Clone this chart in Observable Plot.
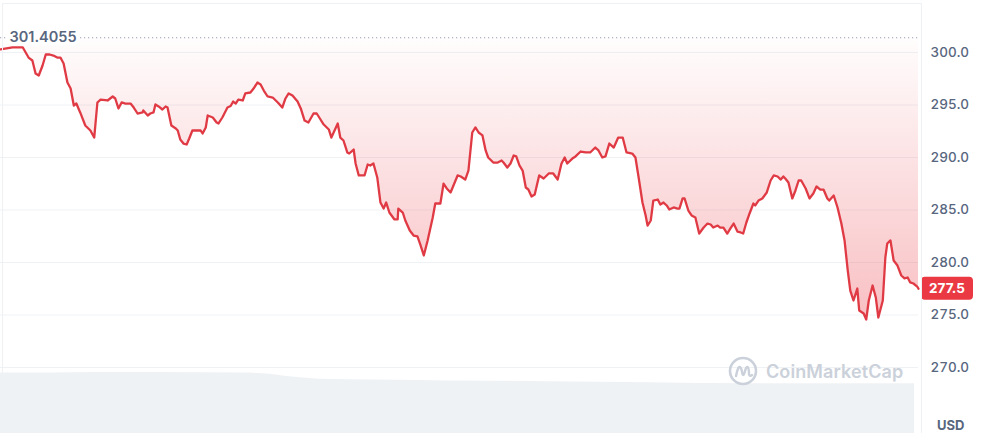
<!DOCTYPE html>
<html>
<head>
<meta charset="utf-8">
<script src="https://cdn.jsdelivr.net/npm/d3@7"></script>
<script src="https://cdn.jsdelivr.net/npm/@observablehq/plot@0.6"></script>
<style>
  html, body { margin: 0; padding: 0; background: #fff; }
  #wrap { position: relative; width: 981px; height: 433px; overflow: hidden; font-family: Inter, "Noto Sans", sans-serif; }
  #frame { position: absolute; left: 2px; top: 3px; width: 920px; height: 440px; box-sizing: border-box;
           border-left: 1px solid #eff2f5; border-top: 1px solid #eff2f5; border-right: 1px solid #eff2f5; pointer-events: none; }
  #vol { position: absolute; left: 0; top: 372px; }
  #wm { position: absolute; left: 728px; top: 356px; display: flex; align-items: center; gap: 8px;
        color: #cbd1da; font-size: 18px; font-weight: 600; letter-spacing: 0.1px; }
  #usd { position: absolute; left: 937px; top: 417px; font-size: 13px; font-weight: 700; color: #58667e; }
</style>
</head>
<body>
<div id="wrap">
  <div id="main"></div>
  <div id="vol"></div>
  <div id="frame"></div>
  <div id="wm">
    <svg width="30" height="30" viewBox="0 0 30 30">
      <circle cx="15" cy="15" r="13" fill="none" stroke="#cbd1da" stroke-width="2.6"/>
      <path d="M8 20 Q10 10 12 11 Q13.5 12 14.5 18 Q15.5 20.5 16.8 16 Q18 10.5 19.5 11 Q21 12 21 18 Q21.5 21 24 19"
            fill="none" stroke="#cbd1da" stroke-width="2.4" stroke-linecap="round" stroke-linejoin="round"/>
    </svg>
    <span>CoinMarketCap</span>
  </div>
  <div id="usd">USD</div>
</div>
<script>
// ---- data (time in minutes over 24h) ----
const times = [
  0,19,35,44,50,55,60,66,71,77,
  83,89,94,99,105,110,115,119,125,133,
  141,147,152,157,168,176,180,185,190,196,
  204,209,215,223,224,231,235,240,243,248,
  254,259,262,268,275,278,282,287,292,296,
  301,309,314,317,322,325,333,339,342,348,
  356,361,365,369,373,380,384,392,397,403,
  408,413,419,427,435,442,447,452,458,466,
  471,477,483,491,496,500,507,515,519,524,
  529,533,538,544,547,554,557,562,566,571,
  576,580,585,591,596,601,605,610,618,623,
  624,631,635,642,648,654,659,664,670,678,
  682,690,695,700,706,717,722,729,734,740,
  745,750,756,761,765,773,780,786,789,795,
  800,805,809,814,819,824,828,833,838,842,
  845,852,860,867,874,880,885,889,897,902,
  910,918,925,933,938,944,949,955,962,969,
  976,982,991,996,1001,1007,1012,1015,1020,1024,
  1031,1035,1040,1045,1049,1056,1062,1065,1070,1073,
  1079,1084,1090,1096,1103,1109,1114,1118,1125,1129,
  1134,1140,1145,1150,1156,1161,1165,1170,1175,1181,
  1184,1189,1195,1202,1208,1213,1219,1224,1228,1231,
  1236,1242,1247,1252,1256,1263,1269,1275,1280,1286,
  1291,1297,1300,1307,1313,1319,1324,1329,1333,1338,
  1344,1347,1354,1358,1362,1368,1373,1377,1384,1388,
  1391,1396,1401,1407,1413,1418,1423,1427,1432,1438,
  1440
];
const prices = [
  300.29,300.48,300.48,299.52,299.24,298.0,297.81,298.76,299.81,299.81,
  299.71,299.52,299.52,298.95,297.14,296.57,294.95,295.14,294.29,293.05,
  292.57,291.90,295.24,295.52,295.43,295.81,295.62,294.67,295.24,295.14,
  295.14,294.76,294.19,294.29,294.48,294.0,294.19,294.29,295.05,294.86,
  294.57,294.86,294.76,293.05,292.76,292.57,291.71,291.33,291.24,291.81,
  292.57,292.57,292.57,292.29,292.86,294.0,293.81,293.33,293.24,293.81,
  294.76,294.9,295.33,295.14,295.52,295.43,296.10,296.19,296.57,297.14,
  296.95,296.38,295.81,295.71,295.24,294.76,295.62,296.10,295.90,295.33,
  294.67,293.52,293.33,294.19,294.19,293.81,293.14,292.67,291.90,292.57,
  293.24,291.90,291.62,290.48,290.38,290.76,289.43,288.29,288.29,288.29,
  289.33,289.24,289.43,288.10,285.71,285.14,285.71,284.76,284.10,284.10,
  285.14,284.76,284.0,283.05,282.57,282.48,281.62,280.67,282.10,284.29,
  285.62,285.62,287.52,287.05,286.67,288.29,288.19,287.90,288.76,292.38,
  292.86,292.38,292.10,290.67,290.0,289.52,289.52,289.71,289.52,289.05,
  289.43,290.19,290.10,289.24,288.76,287.14,286.95,286.29,286.48,287.52,
  288.29,288.0,288.48,288.48,287.90,289.43,290.0,289.43,289.90,290.10,
  290.57,290.48,290.48,290.95,290.67,290.0,290.10,291.33,290.95,291.90,
  291.90,290.48,290.38,290.0,288.10,285.71,284.48,283.52,284.0,285.90,
  286.0,285.52,285.71,285.43,285.05,285.24,285.14,285.14,286.10,286.10,
  284.95,284.48,284.29,282.76,283.33,283.71,283.62,283.33,283.52,283.33,
  283.33,282.76,283.24,283.71,282.95,282.86,282.76,283.81,284.67,285.62,
  285.43,285.90,286.10,286.67,287.81,288.29,288.19,287.90,288.19,288.0,
  287.62,286.10,286.86,287.81,287.81,287.05,286.10,286.57,287.24,286.95,
  286.95,286.10,285.90,286.38,285.24,283.71,282.10,279.24,277.33,276.38,
  277.52,275.43,275.14,274.57,276.38,277.81,276.67,274.76,276.38,280.48,
  281.81,282.10,280.19,279.71,278.76,278.48,278.57,278.10,278.0,277.71,
  277.5
];
const openPrice = 301.4055;
const lastPrice = 277.5;
const yTicks = [270, 275, 280, 285, 290, 295, 300];
const volTimes = [0,78,157,235,314,392,424,447,471,502,549,627,706,784,863,941,1020,1098,1255,1437];
const volValues = [60.8,60.8,61.3,61.2,61.0,60.8,59.5,57.5,56.0,54.5,54.0,53.5,52.8,52.5,52.0,51.5,51.0,50.3,50.0,50.0];

const RED = "#e03a44";
const data = times.map((t, i) => ({t, price: prices[i]}));
const vol = volTimes.map((t, i) => ({t, v: volValues[i]}));

// gradient defs
function defsMark() {
  const defs = d3.create("svg:defs");
  const g = defs.append("linearGradient").attr("id", "cmcFill")
    .attr("x1", 0).attr("y1", 0).attr("x2", 0).attr("y2", 1);
  g.append("stop").attr("offset", "0%").attr("stop-color", "#ea3943").attr("stop-opacity", 0.01);
  g.append("stop").attr("offset", "100%").attr("stop-color", "#ea3943").attr("stop-opacity", 0.32);
  return defs.node();
}

// last-price tag on the right axis
function tagMark(index, scales, values, dimensions) {
  const y = scales.y(lastPrice);
  const x0 = dimensions.width - dimensions.marginRight + 3;
  const g = d3.create("svg:g");
  g.append("rect").attr("x", x0).attr("y", y - 11.5).attr("width", 52).attr("height", 23)
    .attr("rx", 4).attr("fill", "#ea3943");
  g.append("text").attr("x", x0 + 26).attr("y", y).attr("dy", "0.35em")
    .attr("text-anchor", "middle").attr("fill", "white")
    .attr("font-size", 13.5).attr("font-weight", 700).attr("font-family", "Inter, sans-serif")
    .text(d3.format(".1f")(lastPrice));
  return g.node();
}

const main = Plot.plot({
  width: 981, height: 433,
  marginLeft: 0, marginRight: 63, marginTop: 10, marginBottom: 45,
  style: {background: "transparent", fontFamily: "Inter, sans-serif", color: "#58667e"},
  x: {domain: [0, 1440], axis: null},
  y: {domain: [268, 304], axis: null, label: null},
  marks: [
    defsMark,
    Plot.ruleY(yTicks, {stroke: "#eff2f5", strokeWidth: 1}),
    Plot.areaY(data, {x: "t", y1: openPrice, y2: "price", fill: "url(#cmcFill)"}),
    Plot.ruleY([openPrice], {stroke: "#9aa3b3", strokeWidth: 1, strokeDasharray: "1.2,2.8"}),
    Plot.lineY(data, {x: "t", y: "price", stroke: RED, strokeWidth: 2.3, strokeLinejoin: "round"}),
    Plot.text([openPrice], {y: d => d, text: d => d.toFixed(4), frameAnchor: "left", dx: 9,
      textAnchor: "start", fill: "#58667e", stroke: "white", strokeWidth: 7,
      fontSize: 14.5, fontWeight: 600}),
    Plot.axisY(yTicks, {anchor: "right", label: null, tickSize: 0, tickPadding: 12, tickFormat: d3.format(".1f"),
      fontSize: 13.5, fontWeight: 500, fill: "#58667e"}),
    tagMark
  ]
});
document.getElementById("main").appendChild(main);

const volPlot = Plot.plot({
  width: 981, height: 61,
  marginLeft: 0, marginRight: 65, marginTop: 0, marginBottom: 0,
  style: {background: "transparent"},
  x: {domain: [0, 1440], axis: null},
  y: {domain: [0, 61.3], axis: null},
  marks: [
    Plot.areaY(vol, {x: "t", y: "v", fill: "#eff2f5"})
  ]
});
document.getElementById("vol").appendChild(volPlot);
</script>
</body>
</html>
